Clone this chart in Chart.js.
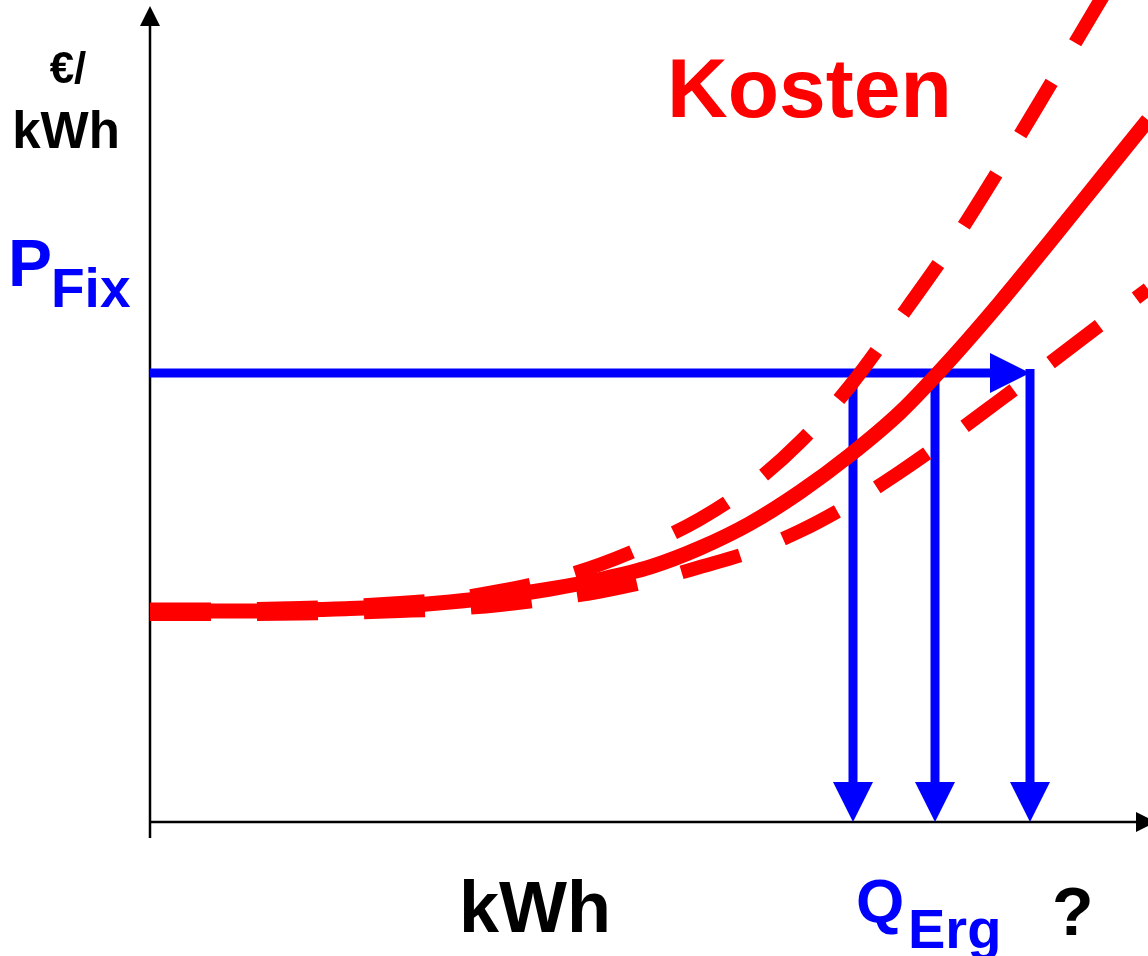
<!DOCTYPE html>
<html>
<head>
<meta charset="utf-8">
<script src="https://cdn.jsdelivr.net/npm/chart.js@4.4.0/dist/chart.umd.min.js"></script>
<style>
html, body { margin: 0; padding: 0; background: #fff; }
#wrap { width: 1148px; height: 956px; position: relative; }
</style>
</head>
<body>
<div id="wrap"><canvas id="kostenChart"></canvas></div>
<script>
// Schema: Kosten pro kWh ueber der Menge (beliebige Einheiten)
const qSteps = [0, 5, 10, 15, 20, 25, 30, 35, 40, 45, 50, 55, 60, 65, 70, 75, 80, 85, 90, 95];

const costX  = [...qSteps, 99.8];
const costY  = [21.1, 21.1, 21.1, 21.2, 21.35, 21.6, 22.0, 22.55, 23.3, 24.25, 25.5, 27.4, 29.85,
                33.0, 36.7, 40.95, 46.2, 51.95, 58.05, 64.25, 70.2];

const upperX = [...qSteps, 96.2];
const upperY = [21.25, 21.25, 21.3, 21.4, 21.6, 21.9, 22.3, 23.1, 24.2, 25.75, 27.8, 30.3, 33.6,
                38.0, 43.6, 50.4, 57.5, 65.4, 73.7, 82.1, 84.1];

const lowerX = [...qSteps, 99.8];
const lowerY = [20.8, 20.8, 20.8, 20.85, 20.95, 21.1, 21.3, 21.7, 22.3, 23.05, 24.1, 25.5, 27.0,
                29.1, 31.8, 35.0, 38.5, 42.2, 45.9, 49.7, 53.3];

const pFix = 44.9;               // Festpreis-Niveau
const qErg = [70.3, 78.5, 88.0]; // resultierende Mengen

const RED = '#ff0000';
const BLUE = '#0000ff';

const toPoints = (xs, ys) => xs.map((v, i) => ({ x: v, y: ys[i] }));

function arrowHead(ctx, tx, ty, dir, len, half) {
  ctx.beginPath();
  if (dir === 'right') {
    ctx.moveTo(tx, ty);
    ctx.lineTo(tx - len, ty - half);
    ctx.lineTo(tx - len, ty + half);
  } else if (dir === 'down') {
    ctx.moveTo(tx, ty);
    ctx.lineTo(tx - half, ty - len);
    ctx.lineTo(tx + half, ty - len);
  } else {
    ctx.moveTo(tx, ty);
    ctx.lineTo(tx - half, ty + len);
    ctx.lineTo(tx + half, ty + len);
  }
  ctx.closePath();
  ctx.fill();
}

const sketchPlugin = {
  id: 'sketch',
  beforeDatasetsDraw(chart) {
    const { ctx, scales: { x, y } } = chart;
    const x0 = x.getPixelForValue(0);
    const y0 = y.getPixelForValue(0);
    ctx.save();
    // Achsen
    ctx.strokeStyle = '#000';
    ctx.fillStyle = '#000';
    ctx.lineWidth = 2.5;
    ctx.beginPath();
    ctx.moveTo(x0, y0 + 16);
    ctx.lineTo(x0, 22);
    ctx.moveTo(x0, y0);
    ctx.lineTo(chart.width - 8, y0);
    ctx.stroke();
    arrowHead(ctx, x0, 6, 'up', 20, 10);
    arrowHead(ctx, chart.width + 8, y0, 'right', 20, 10);

    // blaue Pfeile
    ctx.strokeStyle = BLUE;
    ctx.fillStyle = BLUE;
    ctx.lineWidth = 9;
    const yP = y.getPixelForValue(pFix);
    const tip = x.getPixelForValue(qErg[2]);
    ctx.beginPath();
    ctx.moveTo(x0, yP);
    ctx.lineTo(tip - 38, yP);
    ctx.stroke();
    arrowHead(ctx, tip, yP, 'right', 40, 20);
    qErg.forEach(q => {
      const px = x.getPixelForValue(q);
      ctx.beginPath();
      ctx.moveTo(px, yP - 4);
      ctx.lineTo(px, y0 - 38);
      ctx.stroke();
      arrowHead(ctx, px, y0, 'down', 40, 20);
    });
    ctx.restore();
  },
  afterDraw(chart) {
    const { ctx } = chart;
    const F = '"Liberation Sans", Arial, sans-serif';
    ctx.save();
    ctx.textBaseline = 'alphabetic';
    ctx.fillStyle = '#000';
    ctx.textAlign = 'center';
    ctx.font = 'bold 44px ' + F;
    ctx.fillText('€/', 68, 83);
    ctx.font = 'bold 51px ' + F;
    ctx.fillText('kWh', 66, 148);
    ctx.textAlign = 'left';
    ctx.font = 'bold 72px ' + F;
    ctx.fillText('kWh', 459, 932);
    ctx.font = 'bold 68px ' + F;
    ctx.fillText('?', 1052, 935);

    ctx.fillStyle = RED;
    ctx.font = 'bold 84px ' + F;
    ctx.fillText('Kosten', 667, 117);

    ctx.fillStyle = BLUE;
    ctx.font = 'bold 66px ' + F;
    ctx.fillText('P', 8, 286);
    ctx.font = 'bold 55px ' + F;
    ctx.fillText('Fix', 51, 307);
    ctx.font = 'bold 62px ' + F;
    ctx.fillText('Q', 856, 922);
    ctx.font = 'bold 56px ' + F;
    ctx.fillText('Erg', 908, 948);
    ctx.restore();
  }
};

new Chart(document.getElementById('kostenChart'), {
  type: 'scatter',
  data: {
    datasets: [
      { label: 'Kosten', data: toPoints(costX, costY), borderColor: RED, borderWidth: 15,
        showLine: true, pointRadius: 0, cubicInterpolationMode: 'monotone' },
      { label: 'Kosten hoch', data: toPoints(upperX, upperY), borderColor: RED, borderWidth: 14,
        borderDash: [61, 46], borderCapStyle: 'butt', showLine: true, pointRadius: 0, cubicInterpolationMode: 'monotone' },
      { label: 'Kosten niedrig', data: toPoints(lowerX, lowerY), borderColor: RED, borderWidth: 14,
        borderDash: [61, 46], borderCapStyle: 'butt', showLine: true, pointRadius: 0, cubicInterpolationMode: 'monotone' }
    ]
  },
  options: {
    responsive: true,
    maintainAspectRatio: false,
    animation: false,
    layout: { padding: { left: 150, right: 0, top: 0, bottom: 134 } },
    scales: {
      x: { type: 'linear', min: 0, max: 99.8, display: false },
      y: { type: 'linear', min: 0, max: 82.2, display: false }
    },
    plugins: {
      legend: { display: false },
      tooltip: { enabled: false }
    }
  },
  plugins: [sketchPlugin]
});
</script>
</body>
</html>
